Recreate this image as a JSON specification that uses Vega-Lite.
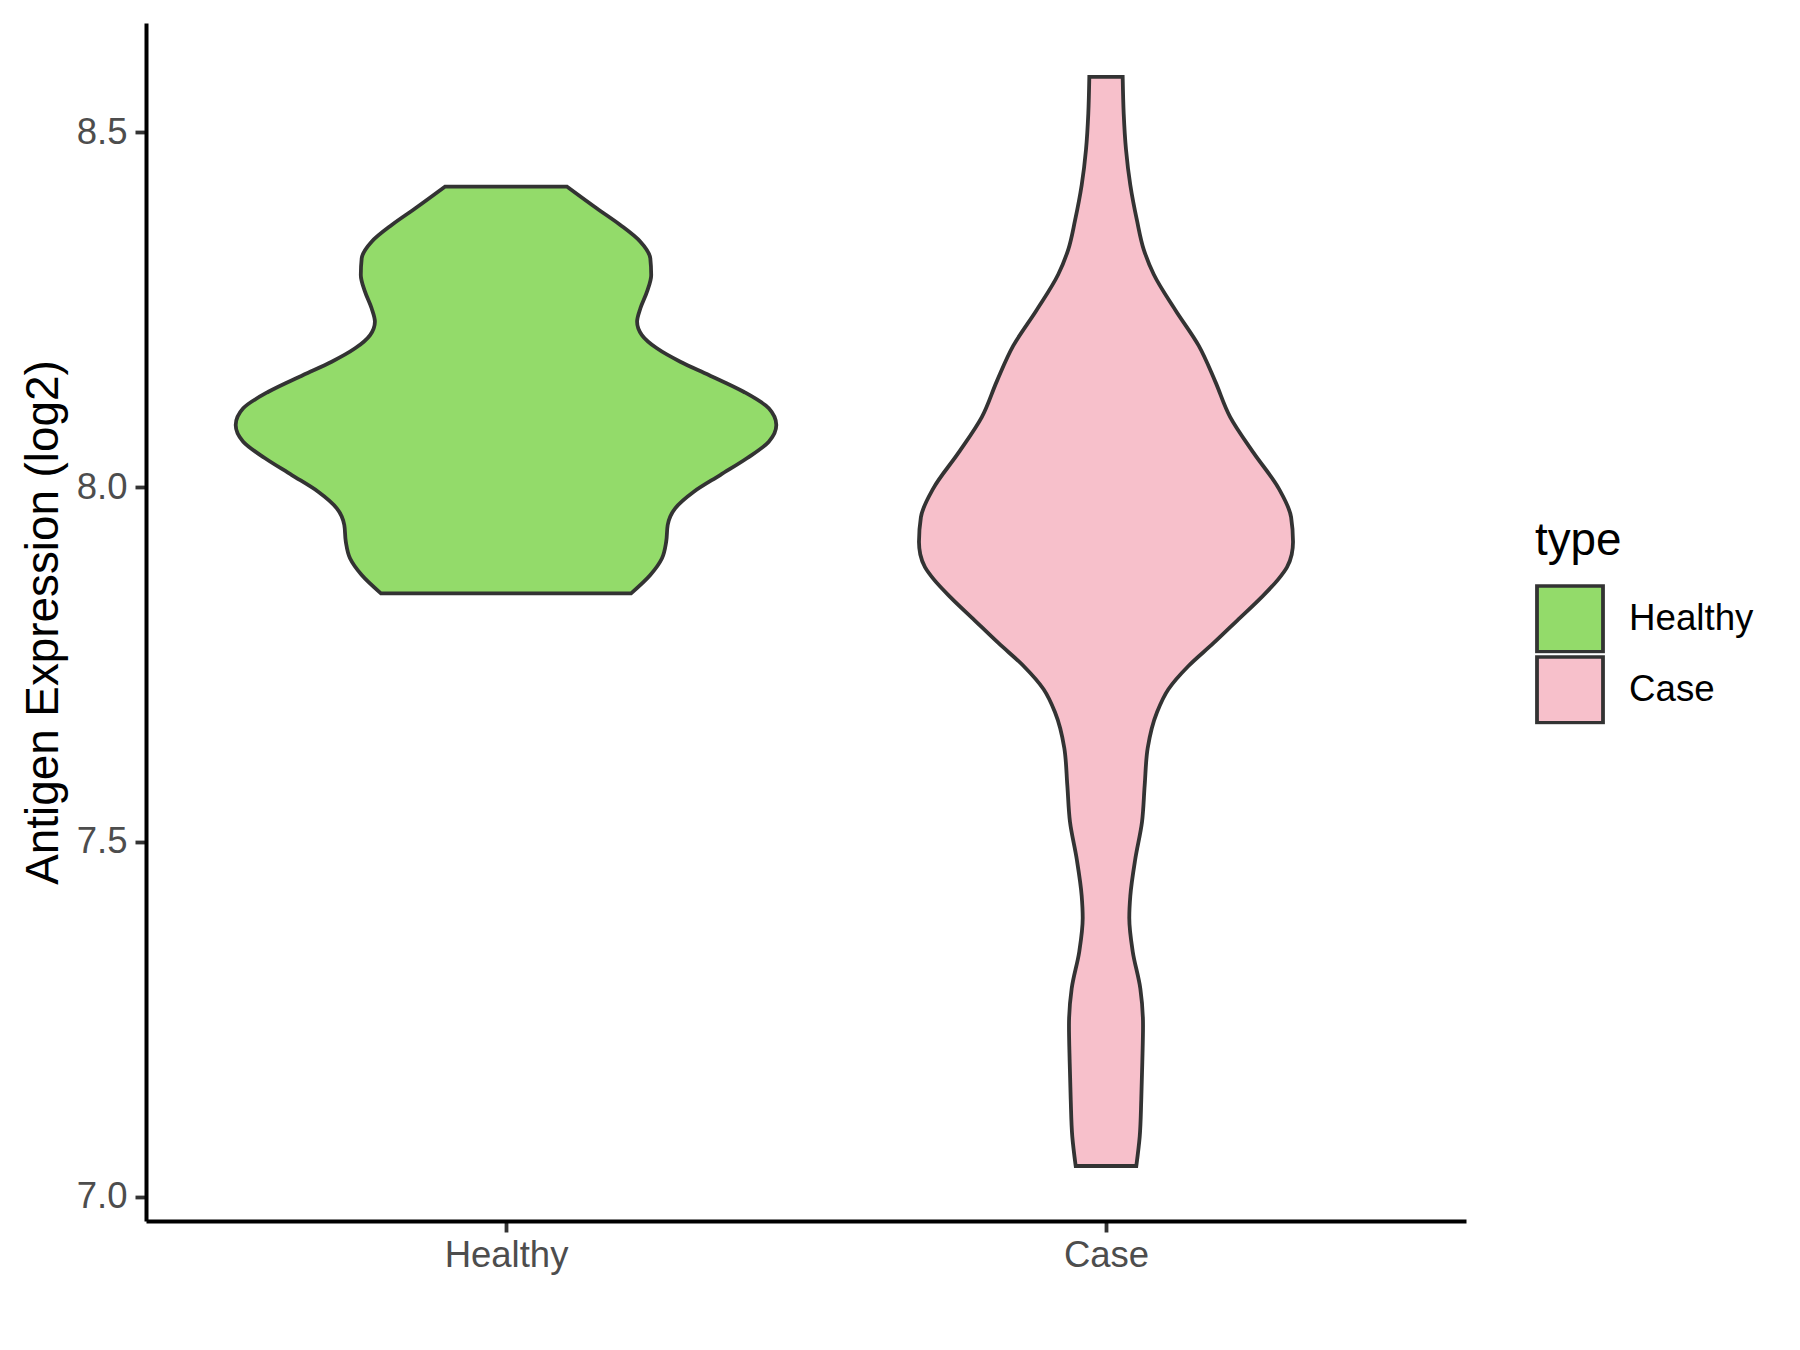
{
  "$schema": "https://vega.github.io/schema/vega-lite/v6.json",
  "width": 1320,
  "height": 1198,
  "autosize": {"type": "none"},
  "padding": {"left": 146, "top": 23, "right": 334, "bottom": 129},
  "background": "white",
  "config": {
    "view": {"stroke": null},
    "font": "Liberation Sans",
    "axis": {
      "grid": false,
      "domainColor": "#000000",
      "domainWidth": 4,
      "tickColor": "#333333",
      "tickWidth": 3.8,
      "tickSize": 11,
      "labelColor": "#4D4D4D",
      "labelFont": "Liberation Sans",
      "labelFontSize": 36.5,
      "labelPadding": 8,
      "titleFont": "Liberation Sans",
      "titleFontSize": 45.8,
      "titleFontWeight": "normal",
      "titleColor": "#000000",
      "titlePadding": 9
    },
    "axisX": {"labelPadding": 5},
    "legend": {
      "orient": "none",
      "legendX": 1389,
      "legendY": 496,
      "padding": 0,
      "titleFont": "Liberation Sans",
      "titleFontSize": 45.8,
      "titleFontWeight": "normal",
      "titleColor": "#000000",
      "titlePadding": 19.5,
      "labelFont": "Liberation Sans",
      "labelFontSize": 36.7,
      "labelColor": "#000000",
      "labelOffset": 24,
      "rowPadding": 2,
      "clipHeight": 69,
      "symbolType": "square",
      "symbolSize": 4356,
      "symbolStrokeColor": "#333333",
      "symbolStrokeWidth": 3.8,
      "symbolOpacity": 1,
      "symbolFillOpacity": 1
    }
  },
  "datasets": {
    "violins": [
      {"type": "Healthy", "value": 8.4233, "lo": -0.1017, "hi": 0.1017},
      {"type": "Healthy", "value": 8.3929, "lo": -0.151, "hi": 0.151},
      {"type": "Healthy", "value": 8.3694, "lo": -0.1905, "hi": 0.1905},
      {"type": "Healthy", "value": 8.3458, "lo": -0.224, "hi": 0.224},
      {"type": "Healthy", "value": 8.3224, "lo": -0.2405, "hi": 0.2405},
      {"type": "Healthy", "value": 8.2989, "lo": -0.242, "hi": 0.242},
      {"type": "Healthy", "value": 8.2754, "lo": -0.235, "hi": 0.235},
      {"type": "Healthy", "value": 8.252, "lo": -0.224, "hi": 0.224},
      {"type": "Healthy", "value": 8.2331, "lo": -0.2185, "hi": 0.2185},
      {"type": "Healthy", "value": 8.2143, "lo": -0.2265, "hi": 0.2265},
      {"type": "Healthy", "value": 8.1956, "lo": -0.2515, "hi": 0.2515},
      {"type": "Healthy", "value": 8.1767, "lo": -0.2905, "hi": 0.2905},
      {"type": "Healthy", "value": 8.158, "lo": -0.338, "hi": 0.338},
      {"type": "Healthy", "value": 8.1344, "lo": -0.396, "hi": 0.396},
      {"type": "Healthy", "value": 8.111, "lo": -0.438, "hi": 0.438},
      {"type": "Healthy", "value": 8.0875, "lo": -0.4505, "hi": 0.4505},
      {"type": "Healthy", "value": 8.064, "lo": -0.438, "hi": 0.438},
      {"type": "Healthy", "value": 8.0406, "lo": -0.4015, "hi": 0.4015},
      {"type": "Healthy", "value": 8.017, "lo": -0.357, "hi": 0.357},
      {"type": "Healthy", "value": 7.9935, "lo": -0.313, "hi": 0.313},
      {"type": "Healthy", "value": 7.9701, "lo": -0.282, "hi": 0.282},
      {"type": "Healthy", "value": 7.9466, "lo": -0.2695, "hi": 0.2695},
      {"type": "Healthy", "value": 7.9231, "lo": -0.267, "hi": 0.267},
      {"type": "Healthy", "value": 7.8997, "lo": -0.26, "hi": 0.26},
      {"type": "Healthy", "value": 7.8761, "lo": -0.2405, "hi": 0.2405},
      {"type": "Healthy", "value": 7.8503, "lo": -0.2085, "hi": 0.2085},
      {"type": "Case", "value": 8.5782, "lo": -0.0278, "hi": 0.0278},
      {"type": "Case", "value": 8.5264, "lo": -0.0295, "hi": 0.0295},
      {"type": "Case", "value": 8.476, "lo": -0.0333, "hi": 0.0333},
      {"type": "Case", "value": 8.4257, "lo": -0.0405, "hi": 0.0405},
      {"type": "Case", "value": 8.3754, "lo": -0.0517, "hi": 0.0517},
      {"type": "Case", "value": 8.3351, "lo": -0.0628, "hi": 0.0628},
      {"type": "Case", "value": 8.2999, "lo": -0.0795, "hi": 0.0795},
      {"type": "Case", "value": 8.2496, "lo": -0.1155, "hi": 0.1155},
      {"type": "Case", "value": 8.1993, "lo": -0.1545, "hi": 0.1545},
      {"type": "Case", "value": 8.149, "lo": -0.182, "hi": 0.182},
      {"type": "Case", "value": 8.0986, "lo": -0.207, "hi": 0.207},
      {"type": "Case", "value": 8.0482, "lo": -0.246, "hi": 0.246},
      {"type": "Case", "value": 7.9979, "lo": -0.288, "hi": 0.288},
      {"type": "Case", "value": 7.9577, "lo": -0.3085, "hi": 0.3085},
      {"type": "Case", "value": 7.9225, "lo": -0.3117, "hi": 0.3117},
      {"type": "Case", "value": 7.905, "lo": -0.3095, "hi": 0.3095},
      {"type": "Case", "value": 7.8873, "lo": -0.3017, "hi": 0.3017},
      {"type": "Case", "value": 7.87, "lo": -0.287, "hi": 0.287},
      {"type": "Case", "value": 7.8447, "lo": -0.259, "hi": 0.259},
      {"type": "Case", "value": 7.8123, "lo": -0.219, "hi": 0.219},
      {"type": "Case", "value": 7.78, "lo": -0.179, "hi": 0.179},
      {"type": "Case", "value": 7.7476, "lo": -0.137, "hi": 0.137},
      {"type": "Case", "value": 7.7152, "lo": -0.104, "hi": 0.104},
      {"type": "Case", "value": 7.6828, "lo": -0.085, "hi": 0.085},
      {"type": "Case", "value": 7.6323, "lo": -0.0695, "hi": 0.0695},
      {"type": "Case", "value": 7.5802, "lo": -0.0645, "hi": 0.0645},
      {"type": "Case", "value": 7.528, "lo": -0.06, "hi": 0.06},
      {"type": "Case", "value": 7.4759, "lo": -0.0488, "hi": 0.0488},
      {"type": "Case", "value": 7.4237, "lo": -0.0405, "hi": 0.0405},
      {"type": "Case", "value": 7.3927, "lo": -0.0388, "hi": 0.0388},
      {"type": "Case", "value": 7.3457, "lo": -0.0445, "hi": 0.0445},
      {"type": "Case", "value": 7.2935, "lo": -0.0572, "hi": 0.0572},
      {"type": "Case", "value": 7.2414, "lo": -0.0617, "hi": 0.0617},
      {"type": "Case", "value": 7.1892, "lo": -0.0605, "hi": 0.0605},
      {"type": "Case", "value": 7.1371, "lo": -0.0588, "hi": 0.0588},
      {"type": "Case", "value": 7.0849, "lo": -0.0562, "hi": 0.0562},
      {"type": "Case", "value": 7.0433, "lo": -0.0505, "hi": 0.0505}
    ]
  },
  "data": {"name": "violins"},
  "layer": [
    {
      "transform": [{"filter": "datum.type === 'Healthy'"}],
      "mark": {"type": "area", "orient": "horizontal", "interpolate": "monotone", "stroke": "#333333", "strokeWidth": 3.8, "opacity": 1, "fillOpacity": 1},
      "encoding": {
        "y": {"field": "value", "type": "quantitative", "scale": {"domain": [6.9658, 8.654], "nice": false, "zero": false}, "axis": {"title": "Antigen Expression (log2)", "values": [7, 7.5, 8, 8.5], "format": ".1f"}},
        "x": {"field": "lo", "type": "quantitative", "scale": {"domain": [-0.6, 1.6], "nice": false, "zero": false}, "axis": {"title": null, "values": [0, 1], "labelExpr": "datum.value === 0 ? 'Healthy' : 'Case'"}},
        "x2": {"field": "hi"},
        "color": {"field": "type", "type": "nominal", "scale": {"domain": ["Healthy", "Case"], "range": ["#93DB6A", "#F7C0CB"]}, "legend": {"title": "type"}}
      }
    },
    {
      "transform": [{"filter": "datum.type === 'Case'"}],
      "mark": {"type": "area", "orient": "horizontal", "interpolate": "monotone", "stroke": "#333333", "strokeWidth": 3.8, "opacity": 1, "fillOpacity": 1},
      "encoding": {
        "y": {"field": "value", "type": "quantitative", "scale": {"domain": [6.9658, 8.654], "nice": false, "zero": false}, "axis": {"title": "Antigen Expression (log2)", "values": [7, 7.5, 8, 8.5], "format": ".1f"}},
        "x": {"field": "lo", "type": "quantitative", "scale": {"domain": [-1.6, 0.6], "nice": false, "zero": false}, "axis": null},
        "x2": {"field": "hi"},
        "color": {"field": "type", "type": "nominal", "scale": {"domain": ["Healthy", "Case"], "range": ["#93DB6A", "#F7C0CB"]}, "legend": {"title": "type"}}
      }
    }
  ],
  "resolve": {"scale": {"x": "independent"}}
}
